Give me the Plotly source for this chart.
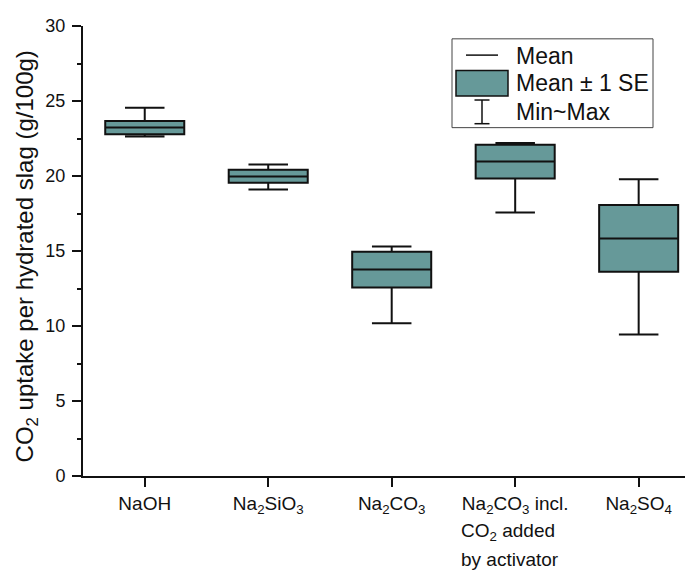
import plotly.graph_objects as go

categories = ["NaOH", "Na<sub>2</sub>SiO<sub>3</sub>", "Na<sub>2</sub>CO<sub>3</sub>",
              "Na<sub>2</sub>CO<sub>3</sub> incl.", "Na<sub>2</sub>SO<sub>4</sub>"]
extra_label_lines = ["CO<sub>2</sub> added", "by activator"]
positions = [0, 1, 2, 3, 4]
mean_vals = [23.23, 19.96, 13.77, 20.97, 15.83]
se_low = [22.79, 19.55, 12.56, 19.83, 13.62]
se_high = [23.67, 20.42, 14.95, 22.09, 18.07]
min_vals = [22.64, 19.10, 10.19, 17.57, 9.44]
max_vals = [24.55, 20.77, 15.30, 22.20, 19.78]

legend_labels = ["Mean", "Mean \u00b1 1 SE", "Min~Max"]
y_title = "CO<sub>2</sub> uptake per hydrated slag (g/100g)"

FILL = "#669999"
INK = "#111111"
FONT = "Liberation Sans, Arial, sans-serif"

fig = go.Figure()
fig.add_trace(go.Box(
    x=positions, q1=se_low, median=mean_vals, q3=se_high,
    lowerfence=min_vals, upperfence=max_vals,
    width=0.64, whiskerwidth=0.5,
    fillcolor=FILL, line=dict(color=INK, width=2),
    boxpoints=False, showlegend=False, hoverinfo="skip",
))

W, H = 693, 575
OFF = 8  # page body margin
ml, mr, mt, mb = 75, 8, 12, 107
pw, ph = W - ml - mr, H - mt - mb

def px(xw):
    return (xw - OFF - ml) / pw

def py(yw):
    return (H - mb - (yw - OFF)) / ph

shapes = []
shapes.append(dict(type="rect", xref="paper", yref="paper",
                   x0=px(452), x1=px(653), y0=py(123), y1=py(33),
                   line=dict(color="#444444", width=1), fillcolor="white"))
shapes.append(dict(type="line", xref="paper", yref="paper",
                   x0=px(466), x1=px(498), y0=py(49.5), y1=py(49.5),
                   line=dict(color=INK, width=1.5)))
shapes.append(dict(type="rect", xref="paper", yref="paper",
                   x0=px(456), x1=px(508), y0=py(91), y1=py(65),
                   line=dict(color=INK, width=1.5), fillcolor=FILL))
shapes.append(dict(type="line", xref="paper", yref="paper",
                   x0=px(482), x1=px(482), y0=py(119), y1=py(95),
                   line=dict(color=INK, width=1.5)))
for yy in (95, 119):
    shapes.append(dict(type="line", xref="paper", yref="paper",
                       x0=px(474.5), x1=px(489.5), y0=py(yy), y1=py(yy),
                       line=dict(color=INK, width=1.5)))

annotations = []
for lab, yy in zip(legend_labels, (50, 78, 107)):
    annotations.append(dict(text=lab, xref="paper", yref="paper",
                            x=px(514), y=py(yy), xanchor="left", yanchor="middle",
                            showarrow=False, font=dict(family=FONT, size=23, color=INK)))
for lab, yy in zip(extra_label_lines, (533, 561)):
    annotations.append(dict(text=lab, xref="paper", yref="paper",
                            x=px(459), y=py(yy), xanchor="left", yanchor="middle",
                            showarrow=False, font=dict(family=FONT, size=19, color=INK)))
annotations.append(dict(text=y_title, xref="paper", yref="paper",
                        x=px(26), y=py(253.5), xanchor="center", yanchor="middle",
                        textangle=-90, showarrow=False,
                        font=dict(family=FONT, size=24, color=INK)))

fig.update_layout(
    width=W, height=H,
    margin=dict(l=ml, r=mr, t=mt, b=mb, pad=0),
    paper_bgcolor="white", plot_bgcolor="white",
    font=dict(family=FONT, size=18, color=INK),
    shapes=shapes, annotations=annotations,
    showlegend=False,
)
fig.update_xaxes(
    range=[-0.5, 4.44], tickmode="array", tickvals=positions, ticktext=categories,
    showline=True, linecolor=INK, linewidth=2,
    ticks="outside", ticklen=9, tickwidth=1.5, tickcolor=INK,
    showgrid=False, zeroline=False, tickfont=dict(size=19),
)
fig.update_yaxes(
    range=[0, 30], tickmode="linear", tick0=0, dtick=5,
    showline=True, linecolor=INK, linewidth=2,
    ticks="outside", ticklen=9, tickwidth=1.5, tickcolor=INK,
    minor=dict(ticks="outside", dtick=2.5, ticklen=4, tickwidth=1.5, tickcolor=INK),
    showgrid=False, zeroline=False, tickfont=dict(size=18), ticklabelstandoff=3,
)

fig.write_html("out.html")
